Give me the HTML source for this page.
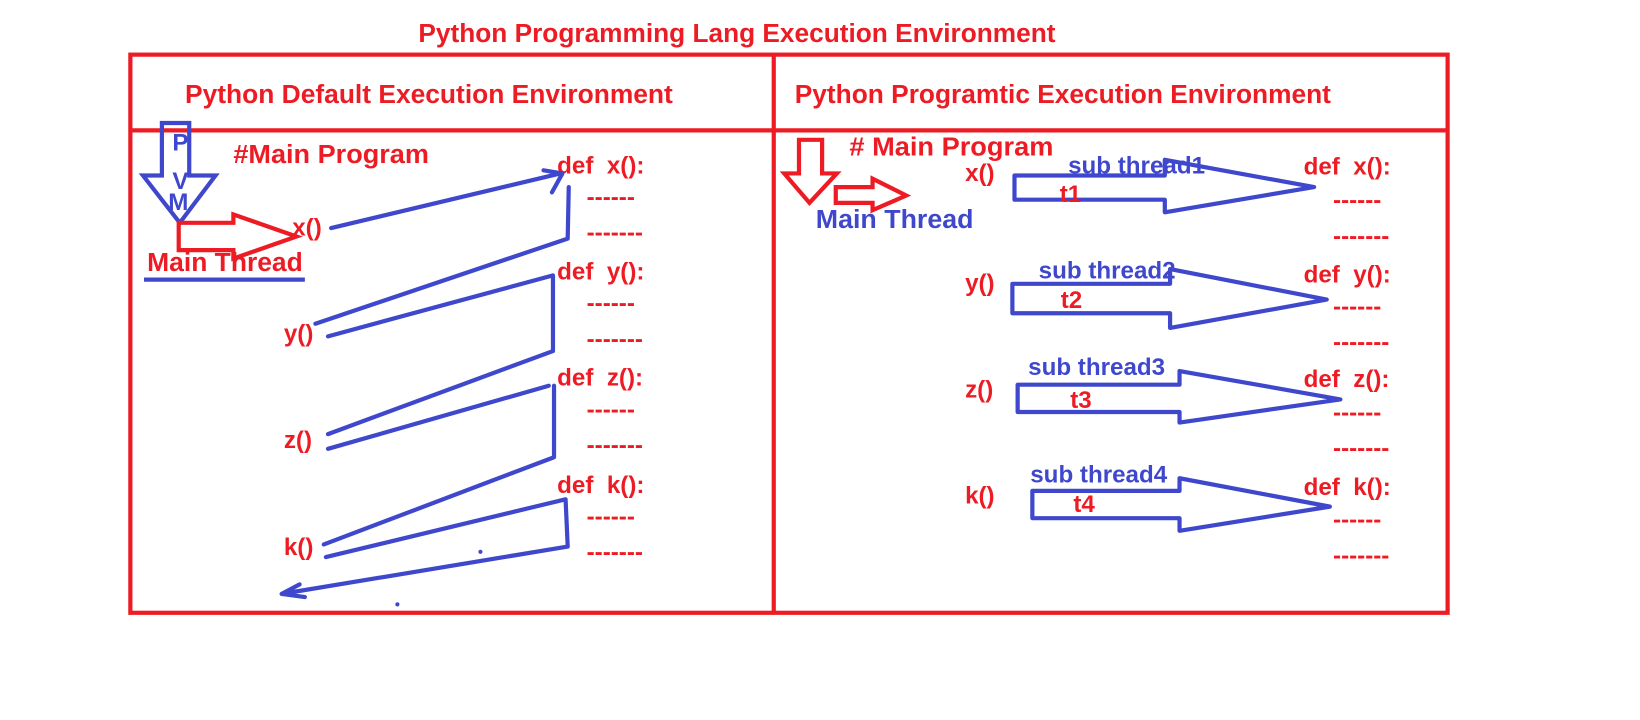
<!DOCTYPE html>
<html><head><meta charset="utf-8"><style>
html,body{margin:0;padding:0;background:#fff;width:1640px;height:720px;overflow:hidden}
svg{display:block}
text{font-family:"Liberation Sans",sans-serif;font-weight:bold;font-size:23px}
.r{fill:#ed1c24}.b{fill:#3f48cc}
</style></head><body>
<svg width="1640" height="720" viewBox="0 0 1560 685" preserveAspectRatio="none">
<g fill="none" stroke="#ed1c24" stroke-width="4">
<rect x="124" y="52" width="1253" height="531"/>
<line x1="736" y1="52" x2="736" y2="583"/>
<line x1="124" y1="124" x2="1375" y2="124"/>
</g>
<text class="r" x="398" y="40" textLength="606" lengthAdjust="spacingAndGlyphs" style="font-size:25px">Python Programming Lang Execution Environment</text>
<text class="r" x="176" y="98" textLength="464" lengthAdjust="spacingAndGlyphs" style="font-size:25px">Python Default Execution Environment</text>
<text class="r" x="756" y="98" textLength="510" lengthAdjust="spacingAndGlyphs" style="font-size:25px">Python Programtic Execution Environment</text>
<!-- left -->
<polygon points="154,117 180,117 180,167 205,167 171,212 136,167 154,167" fill="none" stroke="#3f48cc" stroke-width="4"/>
<text class="b" x="164" y="143">P</text><text class="b" x="164" y="180">V</text><text class="b" x="160" y="200">M</text>
<polygon points="170,212 222,212 222,204 282,225 222,246 222,238 170,238" fill="none" stroke="#ed1c24" stroke-width="4"/>
<text class="r" x="222" y="155" textLength="186" lengthAdjust="spacingAndGlyphs" style="font-size:25px">#Main Program</text>
<text class="r" x="140" y="258" textLength="148" lengthAdjust="spacingAndGlyphs" style="font-size:25px">Main Thread</text>
<line x1="137" y1="266" x2="290" y2="266" stroke="#3f48cc" stroke-width="4"/>
<text class="r" x="278" y="224">x()</text>
<text class="r" x="270" y="325">y()</text>
<text class="r" x="270" y="426">z()</text>
<text class="r" x="270" y="528">k()</text>
<g class="r">
<text x="530" y="165">def&#160; x():</text><text x="558" y="195">------</text><text x="558" y="229">-------</text>
<text x="530" y="266">def&#160; y():</text><text x="558" y="296">------</text><text x="558" y="330">-------</text>
<text x="530" y="367">def&#160; z():</text><text x="558" y="397">------</text><text x="558" y="431">-------</text>
<text x="530" y="469">def&#160; k():</text><text x="558" y="499">------</text><text x="558" y="533">-------</text>
</g>
<g fill="none" stroke="#3f48cc" stroke-width="4" stroke-linecap="round" stroke-linejoin="round">
<polyline points="315,217 533,165"/><polyline points="517,162 535,165 525,183"/>
<polyline points="541,178 540,227 300,308"/>
<polyline points="312,320 526,262 526,334 312,413"/>
<polyline points="312,427 522,367"/>
<polyline points="527,367 527,435 308,518"/>
<polyline points="310,530 538,475 540,520 268,565"/>
<polyline points="285,556 268,565 290,568"/>
</g>
<circle cx="457" cy="525" r="2" class="b"/><circle cx="378" cy="575" r="2" class="b"/>
<!-- right -->
<polygon points="760,133 782,133 782,165 796,165 770,193 746,165 760,165" fill="none" stroke="#ed1c24" stroke-width="4"/>
<polygon points="795,178 830,178 830,170 862,186 830,200 830,193 795,193" fill="none" stroke="#ed1c24" stroke-width="4"/>
<text class="b" x="776" y="217" textLength="150" lengthAdjust="spacingAndGlyphs" style="font-size:25px">Main Thread</text>
<text class="r" x="808" y="148" textLength="194" lengthAdjust="spacingAndGlyphs" style="font-size:25px"># Main Program</text>
<text class="r" x="918" y="172">x()</text>
<text class="r" x="918" y="277">y()</text>
<text class="r" x="918" y="378">z()</text>
<text class="r" x="918" y="479">k()</text>
<g fill="none" stroke="#3f48cc" stroke-width="4" stroke-linejoin="round">
<polygon points="965,167 1108,167 1108,152 1250,178 1108,202 1108,190 965,190"/>
<polygon points="963,270 1113,270 1113,256 1262,285 1113,312 1113,298 963,298"/>
<polygon points="968,366 1122,366 1122,353 1275,380 1122,402 1122,392 968,392"/>
<polygon points="982,467 1122,467 1122,455 1265,482 1122,505 1122,493 982,493"/>
</g>
<text class="b" x="1016" y="165">sub thread1</text><text class="r" x="1008" y="192">t1</text>
<text class="b" x="988" y="265">sub thread2</text><text class="r" x="1009" y="293">t2</text>
<text class="b" x="978" y="357">sub thread3</text><text class="r" x="1018" y="388">t3</text>
<text class="b" x="980" y="459">sub thread4</text><text class="r" x="1021" y="487">t4</text>
<g class="r">
<text x="1240" y="166">def&#160; x():</text><text x="1268" y="198">------</text><text x="1268" y="232">-------</text>
<text x="1240" y="269">def&#160; y():</text><text x="1268" y="299">------</text><text x="1268" y="333">-------</text>
<text x="1240" y="368">def&#160; z():</text><text x="1268" y="400">------</text><text x="1268" y="434">-------</text>
<text x="1240" y="471">def&#160; k():</text><text x="1268" y="502">------</text><text x="1268" y="536">-------</text>
</g>
</svg>
</body></html>
